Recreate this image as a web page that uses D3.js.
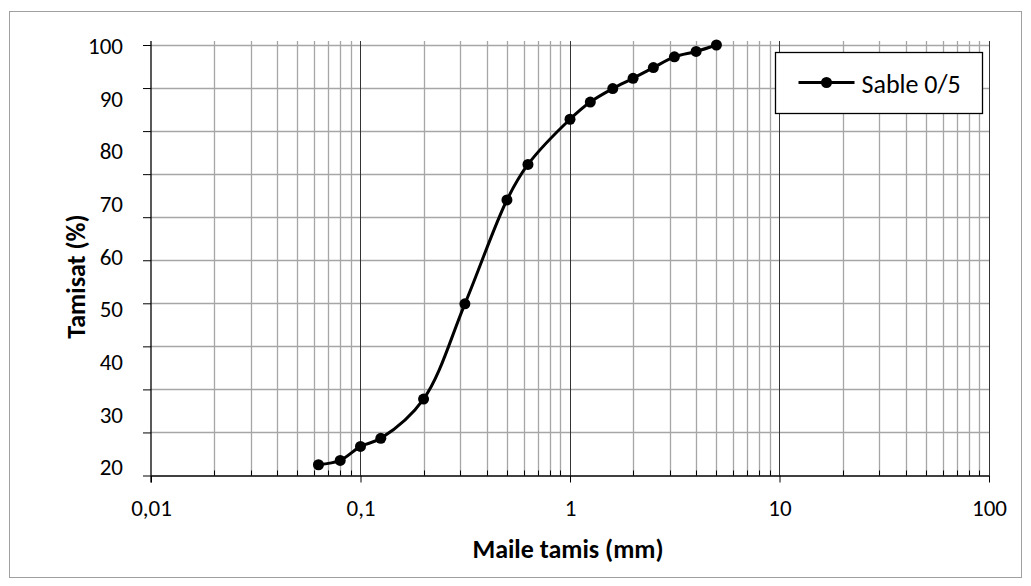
<!DOCTYPE html>
<html>
<head>
<meta charset="utf-8">
<script src="https://cdn.jsdelivr.net/npm/d3@7"></script>
<style>
  body { margin: 0; background: #fff; }
  text { font-family: Carlito, Lato, sans-serif; fill: #000; }
</style>
</head>
<body>
<div id="chart"></div>
<script>
// sieve sizes (mm) and cumulative passing (%)
const sieves = [0.063, 0.08, 0.1, 0.125, 0.2, 0.315, 0.5, 0.63, 1, 1.25, 1.6, 2, 2.5, 3.15, 4, 5];
const passing = [22.0, 22.8, 25.4, 26.9, 34.2, 51.9, 71.2, 77.8, 86.2, 89.4, 91.9, 93.8, 95.8, 97.8, 98.8, 100];
const seriesName = "Sable 0/5";

// axes
const xDecades = [0.01, 0.1, 1, 10, 100];
const yLabels = [20, 30, 40, 50, 60, 70, 80, 90, 100];
const yGrid = d3.range(20, 100.1, 8);

const W = 1031, H = 586;
const pLeft = 151, pRight = 989, pTop = 45, pBottom = 475.5, plotTop = 41;

const svg = d3.select("#chart").append("svg")
    .attr("width", W)
    .attr("height", H);

// outer chart border
svg.append("rect")
    .attr("x", 9.5).attr("y", 11.5)
    .attr("width", 1012).attr("height", 566)
    .attr("fill", "#fff")
    .attr("stroke", "#a0a0a0")
    .attr("stroke-width", 1);

const x = d3.scaleLog().domain([0.01, 100]).range([pLeft, pRight]);
const y = d3.scaleLinear().domain([20, 100]).range([pBottom, pTop]);
// labels sit a little off the grid lines in the original
const yLab = d3.scaleLinear().domain([20, 100]).range([468, 46.7]);

// minor vertical grid (2..9 of each decade)
let minor = [];
xDecades.slice(0, -1).forEach(d => {
    for (let k = 2; k <= 9; ++k) minor.push(d * k);
});

const grid = svg.append("g");
grid.selectAll("line.hgrid")
    .data(yGrid.slice(1))
    .enter()
    .append("line")
    .attr("x1", pLeft).attr("x2", pRight)
    .attr("y1", d => Math.round(y(d)) + 0.5)
    .attr("y2", d => Math.round(y(d)) + 0.5)
    .attr("stroke", "#a6a6a6")
    .attr("stroke-width", 1.3);

grid.selectAll("line.vminor")
    .data(minor)
    .enter()
    .append("line")
    .attr("x1", d => Math.round(x(d)) + 0.5)
    .attr("x2", d => Math.round(x(d)) + 0.5)
    .attr("y1", plotTop).attr("y2", pBottom)
    .attr("stroke", "#a6a6a6")
    .attr("stroke-width", 1.3);

grid.selectAll("line.vmajor")
    .data(xDecades.slice(1))
    .enter()
    .append("line")
    .attr("x1", d => Math.round(x(d)) + 0.5)
    .attr("x2", d => Math.round(x(d)) + 0.5)
    .attr("y1", plotTop).attr("y2", pBottom)
    .attr("stroke", "#333")
    .attr("stroke-width", 1);

// minor ticks inside the x axis
svg.append("g").selectAll("line")
    .data(minor)
    .enter()
    .append("line")
    .attr("x1", d => Math.round(x(d)) + 0.5)
    .attr("x2", d => Math.round(x(d)) + 0.5)
    .attr("y1", pBottom - 5).attr("y2", pBottom)
    .attr("stroke", "#000")
    .attr("stroke-width", 1);

// x axis
const xAxis = d3.axisBottom(x)
    .tickValues(xDecades)
    .tickFormat(d => String(d).replace(".", ","))
    .tickSizeInner(7)
    .tickSizeOuter(0)
    .tickPadding(17.5);

const gx = svg.append("g")
    .attr("transform", `translate(0,${pBottom})`)
    .call(xAxis);
gx.select(".domain").attr("stroke", "#000").attr("stroke-width", 1.3);
gx.selectAll(".tick line").attr("stroke", "#000");
gx.selectAll(".tick text")
    .attr("font-size", 23)
    .attr("font-family", "Carlito, Lato, sans-serif");

// y axis (ticks on grid lines, labels placed separately)
const yAxis = d3.axisLeft(y)
    .tickValues(yGrid)
    .tickFormat("")
    .tickSizeInner(8)
    .tickSizeOuter(0);

const gy = svg.append("g")
    .attr("transform", `translate(${pLeft},0)`)
    .call(yAxis);
gy.select(".domain").remove();
gy.selectAll(".tick line").attr("stroke", "#000");
gy.append("line")
    .attr("x1", 0).attr("x2", 0)
    .attr("y1", plotTop).attr("y2", pBottom + 7)
    .attr("stroke", "#000")
    .attr("stroke-width", 1.3);

svg.append("g").selectAll("text")
    .data(yLabels)
    .enter()
    .append("text")
    .attr("x", 123)
    .attr("y", d => yLab(d) + 7.3)
    .attr("text-anchor", "end")
    .attr("font-size", 23)
    .text(d => d);

// axis titles
svg.append("text")
    .attr("x", 568)
    .attr("y", 558)
    .attr("text-anchor", "middle")
    .attr("font-size", 26)
    .attr("font-weight", "bold")
    .text("Maile tamis (mm)");

svg.append("text")
    .attr("transform", "translate(84.5,276.5) rotate(-90)")
    .attr("text-anchor", "middle")
    .attr("font-size", 26)
    .attr("font-weight", "bold")
    .text("Tamisat (%)");

// series
const pts = sieves.map((s, i) => [s, passing[i]]);

const line = d3.line()
    .x(d => x(d[0]))
    .y(d => y(d[1]))
    .curve(d3.curveCatmullRom.alpha(0.5));

svg.append("path")
    .datum(pts)
    .attr("fill", "none")
    .attr("stroke", "#000")
    .attr("stroke-width", 3)
    .attr("stroke-linejoin", "round")
    .attr("d", line);

svg.selectAll("circle.pt")
    .data(pts)
    .enter()
    .append("circle")
    .attr("cx", d => x(d[0]))
    .attr("cy", d => y(d[1]))
    .attr("r", 5.5)
    .attr("fill", "#000")
    .classed("pt", true);

// legend
const lg = svg.append("g").attr("transform", "translate(775.5,52.5)");
lg.append("rect")
    .attr("width", 207)
    .attr("height", 61)
    .attr("fill", "#fff")
    .attr("stroke", "#000")
    .attr("stroke-width", 1.3);
lg.append("line")
    .attr("x1", 23).attr("x2", 79)
    .attr("y1", 30).attr("y2", 30)
    .attr("stroke", "#000")
    .attr("stroke-width", 3);
lg.append("circle")
    .attr("cx", 51).attr("cy", 30)
    .attr("r", 5.5)
    .attr("fill", "#000");
lg.append("text")
    .attr("x", 86)
    .attr("y", 40.5)
    .attr("font-size", 26)
    .text(seriesName);
</script>
</body>
</html>
